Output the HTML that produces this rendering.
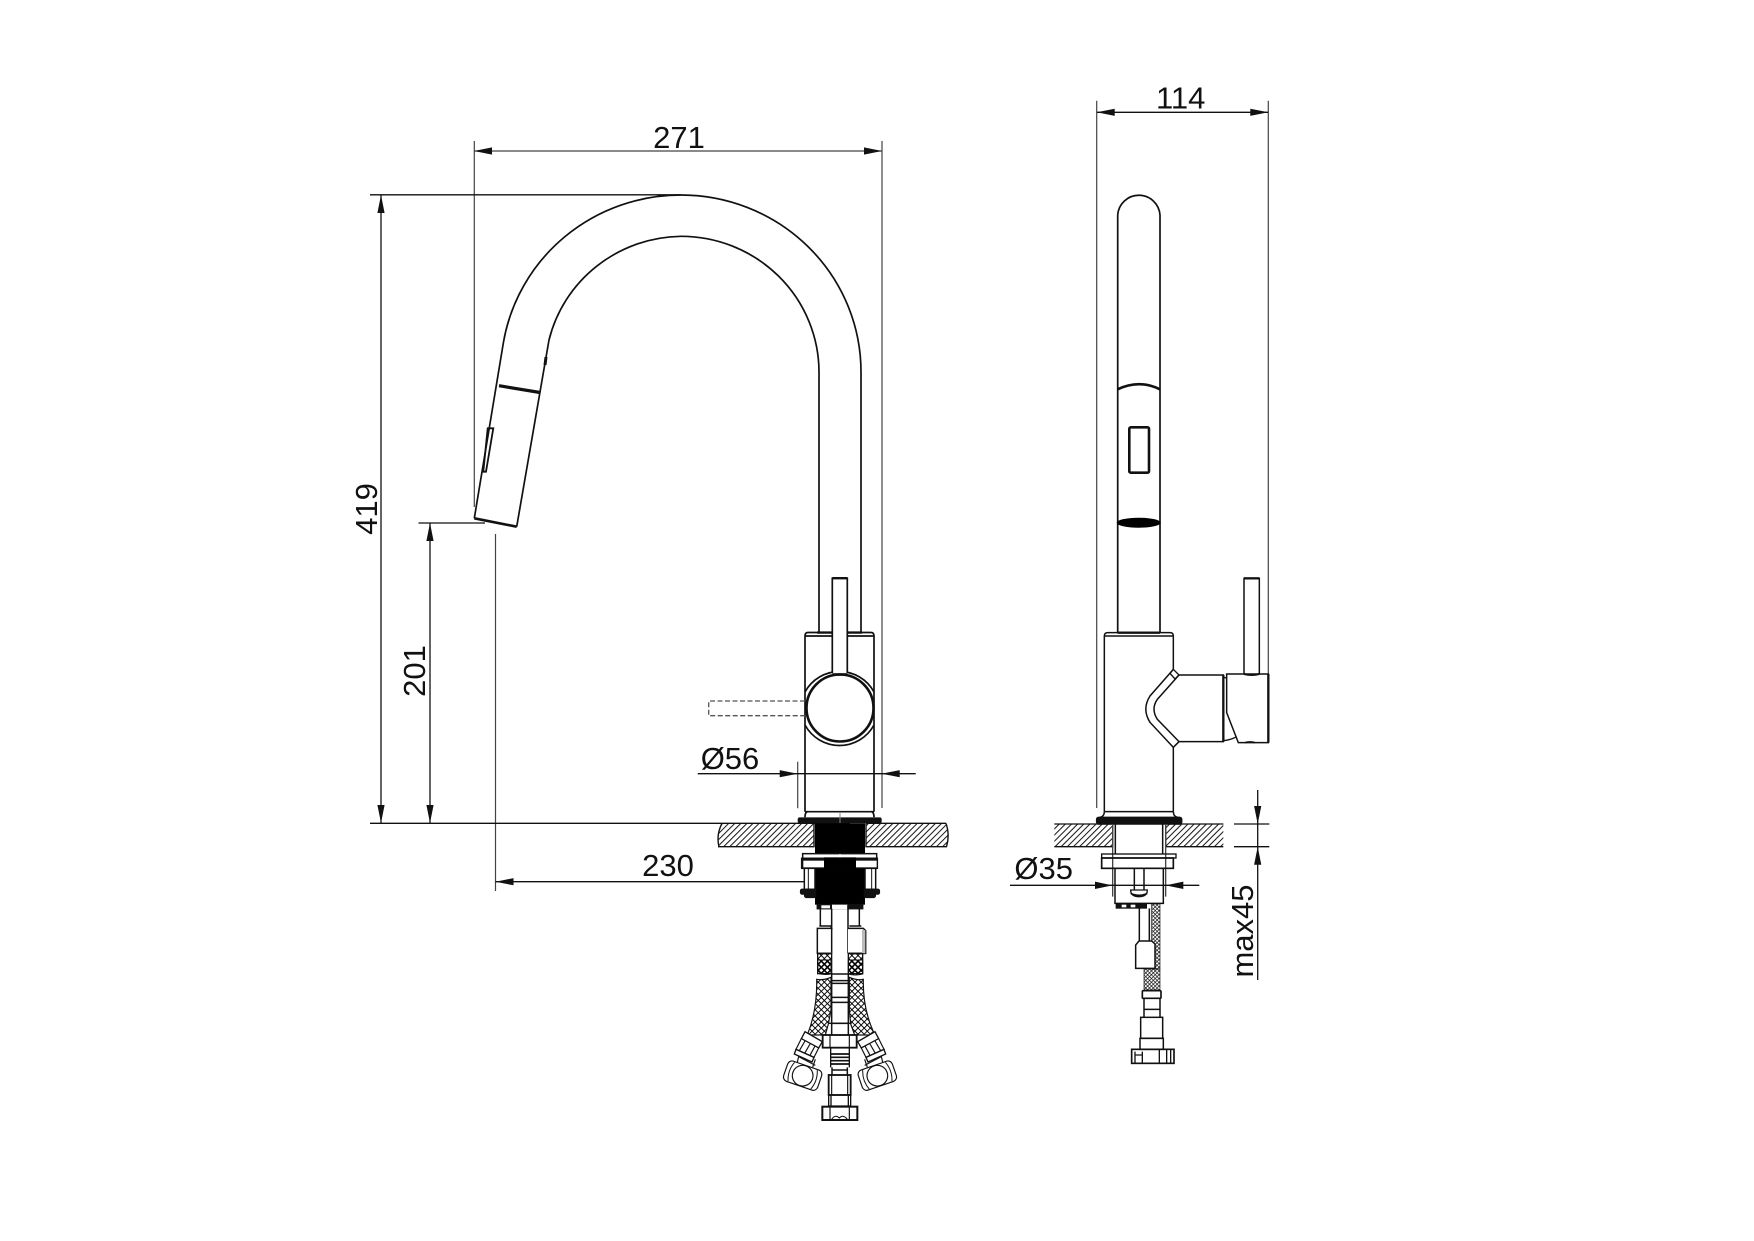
<!DOCTYPE html>
<html><head><meta charset="utf-8"><title>Faucet dimensions</title>
<style>html,body{margin:0;padding:0;background:#fff}svg{display:block}text{font-family:"Liberation Sans",sans-serif;font-size:31px;fill:#111;text-anchor:middle}</style></head>
<body>
<svg width="1754" height="1241" viewBox="0 0 1754 1241" xmlns="http://www.w3.org/2000/svg">
<defs>
<pattern id="h" patternUnits="userSpaceOnUse" width="4.3" height="4.3" patternTransform="rotate(45)"><line x1="1" y1="0" x2="1" y2="4.3" stroke="#111" stroke-width="1"/></pattern>
<pattern id="h3" patternUnits="userSpaceOnUse" width="13" height="13" patternTransform="rotate(45)"><line x1="3" y1="0" x2="3" y2="13" stroke="#111" stroke-width="3"/></pattern>
<pattern id="m" patternUnits="userSpaceOnUse" width="13" height="13" patternTransform="rotate(45)"><path d="M0 0H13M0 0V13" stroke="#000" stroke-width="5.5" fill="none"/></pattern>
<pattern id="m2" patternUnits="userSpaceOnUse" width="8" height="8" patternTransform="rotate(45)"><path d="M0 0H8M0 0V8" stroke="#111" stroke-width="4.2" fill="none"/></pattern>
</defs>
<rect width="1754" height="1241" fill="#fff"/>

<!-- dimension lines left view -->
<g stroke="#444" stroke-width="1.2" fill="none">
<path d="M474.3 141V507M882 141V808M797.7 761.7V808.3"/>
<path d="M474 151H882"/>
<path d="M495.5 534V891"/>
</g>
<g stroke="#111" stroke-width="1.3" fill="none">
<path d="M370 194.8H681M381 195V823M418.5 523H485M430 523V823M370 823.3H850"/>
<path d="M495.5 881.7H805M697.7 773.7H915.7"/>
</g>
<g fill="#111">
<path d="M474 151l18-3.6v7.2zM882 151l-18-3.6v7.2z"/>
<path d="M381 195l-3.6 18h7.2zM381 823l-3.6-18h7.2z"/>
<path d="M430 523l-3.6 18h7.2zM430 823l-3.6-18h7.2z"/>
<path d="M495.5 881.7l18-3.6v7.2zM797.7 773.7l-18-3.6v7.2zM881.7 773.7l18-3.6v7.2z"/>
</g>
<text x="679" y="148">271</text>
<text transform="translate(377,509) rotate(-90)">419</text>
<text transform="translate(425,671) rotate(-90)">201</text>
<text x="668" y="876">230</text>
<text x="730" y="769">Ø56</text>

<!-- spout left view -->
<g stroke="#111" stroke-width="1.7" fill="none">
<path d="M861 633V372A180 177 0 0 0 681 195A180 177 0 0 0 503.5 342L474.3 518.3"/>
<path d="M819 633V372A138 136 0 0 0 681 236.3A138 136 0 0 0 549 340L516.7 526.7"/>
<path d="M487.7 428.3H493.3L486 471.7H483.3Z" stroke-width="1.8"/>
</g>
<path d="M474.3 518.3L516.7 526.7" stroke="#111" stroke-width="2.6"/>
<path d="M499 385.7L540 392.5" stroke="#111" stroke-width="3.2"/>
<path d="M546 357L545 365" stroke="#111" stroke-width="3"/>

<!-- body left view -->
<g fill="none" stroke="#111" stroke-width="1.7">
<path d="M805 811.7V636q0-3.5 3-3.5H871q3 0 3 3.5V811.7"/>
<path d="M805 636H874M805 811.7H874"/>
<path d="M817 632.6H862" stroke-width="2.4"/>
<path d="M805 817.3q0-5.6 3-5.6M874 817.3q0-5.6-3-5.6"/>
<path d="M805 692A39.3 39.3 0 0 1 874 692M874 725A39.3 39.3 0 0 1 805 725"/>
<circle cx="840" cy="708" r="33.5" fill="#fff" stroke-width="2.6"/>
<path d="M832.3 673V578.2H847.3V673" fill="#fff"/>
<path d="M832.3 578.2H847.3" stroke-width="2.4"/>
</g>
<path d="M832.3 674.5H847.3" stroke="#111" stroke-width="2.6"/>
<path d="M805 701H708.7V715.7H805" fill="none" stroke="#555" stroke-width="1.3" stroke-dasharray="5 2.5"/>
<rect x="797.7" y="817.4" width="84" height="5.8" rx="2" fill="#111"/>
<path d="M840 812V823" stroke="#888" stroke-width="1"/>

<!-- counter left -->
<path d="M722 823.3H814V846.7H720Q716 835 722 823.3Z" fill="url(#h)"/>
<path d="M866 823.3H946Q950 835 946.5 846.7H866Z" fill="url(#h)"/>
<path d="M718 846.7H814V823.3M866 823.3V846.7H947M722 823.3Q716 835 719 846.7M946 823.3Q950 835 946.5 846.7M866 823.3H946" fill="none" stroke="#111" stroke-width="1.4"/>

<!-- under-counter left (zoom 3 coords) -->
<g transform="translate(760,820) scale(.33333)" fill="none" stroke="#111" stroke-width="4.5">
<rect x="165" y="10" width="150" height="100" fill="#000" stroke="none"/>
<rect x="128" y="101" width="222" height="14" fill="#fff"/>
<rect x="125" y="115" width="227" height="30" fill="#111"/>
<rect x="130" y="122" width="62" height="20" fill="#fff" stroke="none"/>
<rect x="288" y="122" width="62" height="20" fill="#fff" stroke="none"/>
<rect x="165" y="145" width="150" height="109" fill="#000" stroke="none"/>
<rect x="192" y="112" width="96" height="33" fill="#000" stroke="none"/>
<path d="M240 102V112" stroke="#fff" stroke-width="3"/>
<rect x="133" y="145" width="32" height="63" fill="#fff"/>
<rect x="315" y="145" width="32" height="63" fill="#fff"/>
<path d="M145 145V208M335 145V208" stroke-width="3"/>
<rect x="122" y="208" width="45" height="14" rx="4" fill="#111"/>
<rect x="134" y="220" width="33" height="12" rx="5" fill="#111"/>
<rect x="313" y="208" width="45" height="14" rx="4" fill="#111"/>
<rect x="313" y="220" width="33" height="12" rx="5" fill="#111"/>
<rect x="172" y="254" width="136" height="12" fill="#111"/>
<rect x="184" y="256" width="26" height="9" fill="#fff" stroke="none"/>
<rect x="216" y="254" width="46" height="14" fill="#fff" stroke="none"/>
<path d="M181 266V318M215 266V400M264 256V400M298 266V318"/>
<path d="M178 318H212L215 325H172V400H215M264 325H310L317 332V400H264M268 318H304" fill="#fff"/>
<path d="M172 400H215M264 400H317"/>
<rect x="306" y="330" width="10" height="70" fill="#bbb" stroke="none"/>
<rect x="173" y="401" width="42" height="60" fill="url(#m)" stroke-width="4"/>
<rect x="265" y="401" width="43" height="60" fill="url(#m)" stroke-width="4"/>
</g>

<!-- lower section left (zoom 4 coords) -->
<g transform="translate(760,960) scale(.33333)" fill="none" stroke="#111" stroke-width="4.5">
<path d="M173 0V40Q190 46 213 42V0Z" fill="url(#m)" stroke="#111" stroke-width="3"/>
<path d="M265 0V42Q285 48 308 42V0Z" fill="url(#m)" stroke="#111" stroke-width="3"/>
<path d="M170 58Q190 62 213 52V150L205 192L196 225H142Q172 150 170 58Z" fill="url(#m)" stroke-width="3.5"/>
<path d="M310 58Q292 62 268 52V150L272 192L284 225H345Q308 150 310 58Z" fill="url(#m)" stroke-width="3.5"/>
<path d="M213 42H265M213 62H265M213 70H265M213 112H265M213 127H265M213 190H265M215 42V225M265 42V225" />
<path d="M205 190H275" stroke-width="4"/>
<rect x="188" y="225" width="102" height="38" fill="#fff" stroke-width="5.5"/>
<path d="M210 225V263M268 225V263" stroke-width="3.5"/>
<path d="M212 263V322M268 263V322" stroke-width="4"/>
<path d="M212 282H268M212 292H268M212 302H268M212 312H268" stroke-width="5"/>
<path d="M216 322V345M262 322V345M216 330H262"/>
<rect x="206" y="345" width="66" height="60" stroke-width="5.5"/>
<path d="M215 345V405M263 345V405" stroke-width="3.5"/>
<path d="M206 405H272V438H206ZM213 405V438M265 405V438" stroke-width="4"/>
<rect x="187" y="440" width="105" height="40" fill="#fff" stroke-width="6"/>
<path d="M210 440V480M268 440V480" stroke-width="3.5"/>
<path d="M215 478Q225 462 238 474Q250 462 262 478" stroke-width="3"/>
<!-- left valve -->
<g stroke-width="3.5">
<path d="M135 215L187 245L176 264L124 236Z" fill="#fff" stroke-width="4"/>
<path d="M124 236L176 264L162 292L108 268Z" fill="#fff"/>
<path d="M135 243L118 272M150 252L134 280M165 258L150 286"/>
<path d="M108 268L162 292L156 306L103 282Z" fill="#fff" stroke-width="4"/>
<path d="M116 290L166 316M116 290L112 306M166 298L158 322" fill="none"/>
<g transform="rotate(19 128 347)">
<rect x="74" y="315" width="108" height="64" rx="14" fill="#fff"/>
<circle cx="128" cy="347" r="31"/>
<path d="M92 317Q80 347 92 377M164 317Q176 347 164 377" stroke-width="3"/>
</g>
</g>
<!-- right valve -->
<g stroke-width="3.5">
<path d="M345 215L293 245L304 264L356 236Z" fill="#fff" stroke-width="4"/>
<path d="M356 236L304 264L318 292L372 268Z" fill="#fff"/>
<path d="M345 243L362 272M330 252L346 280M315 258L330 286"/>
<path d="M372 268L318 292L324 306L377 282Z" fill="#fff" stroke-width="4"/>
<path d="M364 290L314 316M364 290L368 306M314 298L322 322" fill="none"/>
<g transform="rotate(-19 352 347)">
<rect x="298" y="315" width="108" height="64" rx="14" fill="#fff"/>
<circle cx="352" cy="347" r="31"/>
<path d="M316 317Q304 347 316 377M388 317Q400 347 388 377" stroke-width="3"/>
</g>
</g>
</g>

<!-- right view dims -->
<g stroke="#444" stroke-width="1.2" fill="none">
<path d="M1096.7 100.7V808M1268.3 100.7V674"/>
</g>
<g stroke="#111" stroke-width="1.3" fill="none">
<path d="M1097 112.3H1268M1257.7 790V980M1234 824H1269.3M1234 846.7H1269.3"/>
</g>
<g fill="#111">
<path d="M1096.7 112.3l18-3.6v7.2zM1268.3 112.3l-18-3.6v7.2z"/>
<path d="M1257.7 824l-3.6-18h7.2zM1257.7 846.7l-3.6 18h7.2z"/>
</g>
<text x="1180.7" y="108.5">114</text>
<text x="1043.7" y="879">Ø35</text>
<text transform="translate(1253,931) rotate(-90)">max45</text>

<!-- right view tube -->
<g fill="none" stroke="#111" stroke-width="1.7">
<path d="M1117.7 633V215A21.2 21.2 0 0 1 1160 215V633"/>
<path d="M1117.7 389.3Q1138.8 379 1160 389.3" stroke-width="2.6"/>
<rect x="1129.3" y="427.3" width="19.7" height="45.4" rx="1.5" stroke-width="2.6"/>
</g>
<ellipse cx="1138.7" cy="522.7" rx="22" ry="5" fill="#000"/>

<!-- right view body (zoom 6 coords) -->
<g transform="translate(1080,560) scale(.33333)" fill="none" stroke="#111" stroke-width="4.5">
<path d="M73 755V228Q73 218 84 218H270Q280 218 280 228V328M280 562V755"/>
<path d="M73 228H280M73 755H280"/>
<path d="M113 218H240" stroke-width="7"/>
<path d="M73 755Q73 770 60 772M280 755Q280 770 293 772"/>
<path d="M280 328L210 408Q185 447 210 487L280 562"/>
<path d="M297 345L232 418Q212 447 232 478L297 545"/>
<path d="M270 340L280 328L297 345L285 357Z" stroke-width="4"/>
<path d="M280 562L297 545H430V345H297"/>
<path d="M430 345V545" stroke-width="7"/>
<path d="M430 352L440 354M430 542Q452 540 470 530" stroke-width="4"/>
<path d="M440 342H565V548H475L440 458Z"/>
<path d="M565 342V548" stroke-width="7"/>
<path d="M492 342V55H538V342"/>
<path d="M492 55H538" stroke-width="7"/>
<path d="M492 342Q515 348 538 342" stroke-width="6"/>
<path d="M495 548Q510 544 525 548" stroke-width="5"/>
</g>

<!-- right view under counter (zoom 7 coords) -->
<g transform="translate(1010,780) scale(.33333)" fill="none" stroke="#111" stroke-width="4.5">
<rect x="260" y="112" width="255" height="20" rx="6" fill="#111"/>
<rect x="133" y="132" width="175" height="68" fill="url(#h3)" stroke="none"/>
<rect x="467" y="132" width="173" height="68" fill="url(#h3)" stroke="none"/>
<path d="M133 132H308V200H133M640 132H467V200H640" stroke-width="4"/>
<path d="M308 132V350M467 132V350" stroke="#444" stroke-width="4"/>
<path d="M316 132V222M458 132V222"/>
<rect x="275" y="222" width="223" height="12" stroke-width="4"/>
<rect x="275" y="234" width="215" height="31" stroke-width="5"/>
<path d="M315 265V370H460V265"/>
<path d="M373 265V330M402 265V330"/>
<path d="M362 330H412Q412 350 387 350Q362 350 362 330Z" stroke-width="4"/>
<path d="M362 340Q387 352 412 340" stroke-width="5"/>
<path d="M0 316H568" stroke="#111" stroke-width="4"/>
<path d="M307 316L255 305V327ZM467 316L520 305V327Z" fill="#111" stroke="none"/>
<rect x="318" y="372" width="92" height="13" fill="#111" stroke-width="2"/>
<rect x="335" y="374" width="14" height="8" fill="#fff" stroke="none"/>
<rect x="362" y="374" width="14" height="8" fill="#fff" stroke="none"/>
<path d="M388 385V483M418 385V483"/>
<rect x="425" y="372" width="25" height="195" fill="url(#m2)" stroke-width="2"/>
<rect x="402" y="567" width="48" height="63" fill="url(#m2)" stroke-width="2"/>
<path d="M387 483H425L435 492V565H377V495Z" fill="#fff"/>
<rect x="397" y="632" width="56" height="23" rx="3" fill="#fff" stroke-width="5"/>
<path d="M402 655V712M450 655V712M402 688H450"/>
<rect x="392" y="712" width="66" height="63"/>
<rect x="390" y="775" width="70" height="33"/>
<rect x="365" y="808" width="127" height="42" stroke-width="5"/>
<path d="M375 815V850M397 815V850M448 808V850M470 808V850M482 808V850M375 825H397" stroke-width="4"/>
</g>
</svg>
</body></html>
